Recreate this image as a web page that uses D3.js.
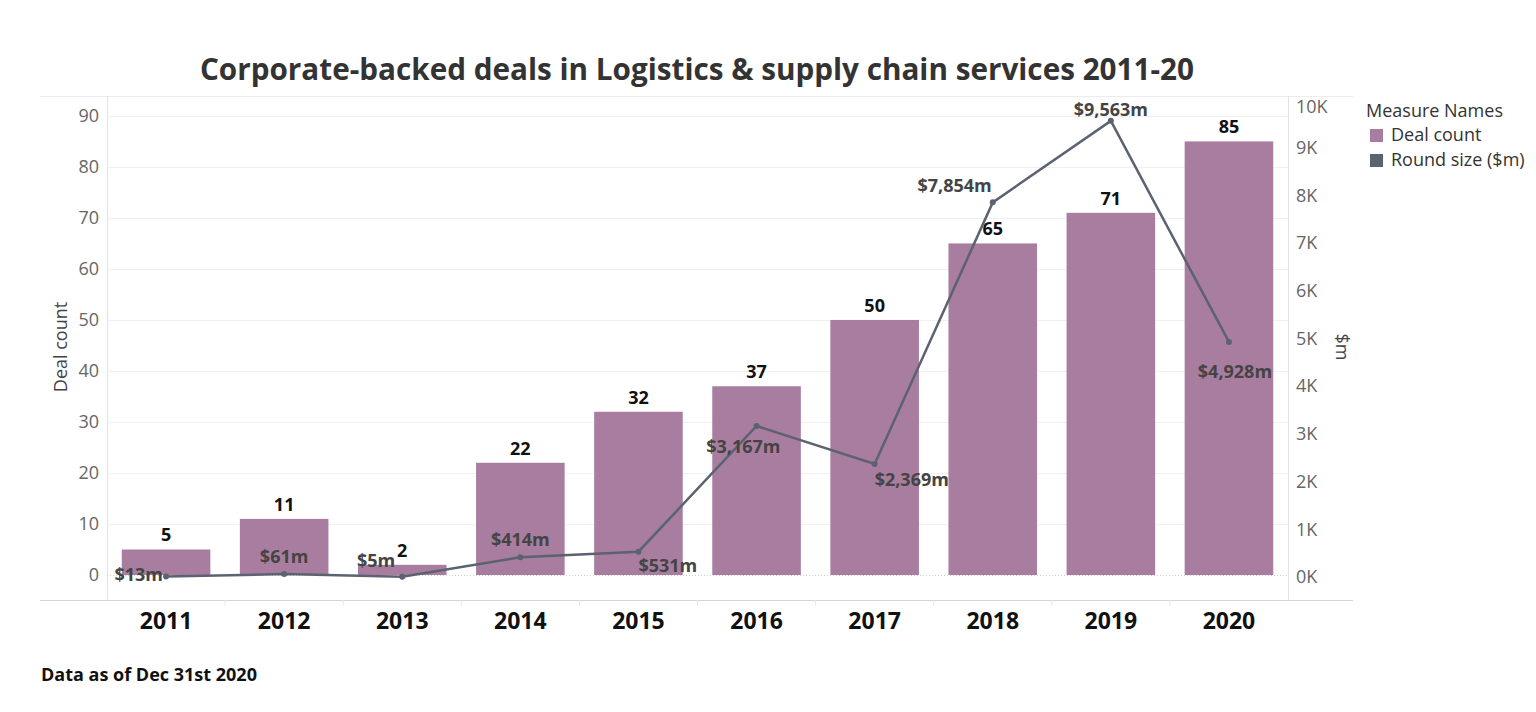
<!DOCTYPE html>
<html><head><meta charset="utf-8">
<script src="https://cdn.jsdelivr.net/npm/d3@7"></script>
<style>
html,body{margin:0;padding:0;background:#fff;}
svg{display:block;font-family:"Open Sans",sans-serif;}
</style></head>
<body>
<svg id="c" width="1536" height="712"></svg>
<script>
const years = ["2011","2012","2013","2014","2015","2016","2017","2018","2019","2020"];
const dealCount = [5, 11, 2, 22, 32, 37, 50, 65, 71, 85];
const roundSize = [13, 61, 5, 414, 531, 3167, 2369, 7854, 9563, 4928];
const leftTicks = [0,10,20,30,40,50,60,70,80,90];
const rightTicks = [0,1000,2000,3000,4000,5000,6000,7000,8000,9000,10000];
// label placement for line labels: [anchor, dx, dy]
const lineLabelPos = [["end",-3,0],["middle",0,-16],["end",-7,-15],["middle",0,-16],["start",0,16],["end",24,22],["start",0,17],["end",-1,-15],["middle",0,-10],["middle",6,31]];

const svg = d3.select("#c");
const L = 107, R = 1288, T = 96, B = 600;
const barColor = "#a87d9f", lineColor = "#5b6270";

const x = d3.scaleBand().domain(years).range([L, R]).paddingInner(0.25).paddingOuter(0.125);
const yL = d3.scaleLinear().domain([-4.9, 93.9]).range([B, T]);
const yR = d3.scaleLinear().domain([-482, 10084]).range([B, T]);

// title
svg.append("text").attr("x", 697).attr("y", 80).attr("text-anchor","middle")
  .attr("font-size", 29.7).attr("font-weight", 700).attr("fill","#333")
  .text("Corporate-backed deals in Logistics & supply chain services 2011-20");

// frame lines
svg.append("line").attr("x1",40).attr("x2",1353).attr("y1",T+0.5).attr("y2",T+0.5).attr("stroke","#ececec");
svg.append("line").attr("x1",40).attr("x2",1353).attr("y1",B+0.5).attr("y2",B+0.5).attr("stroke","#d4d4d4");
svg.append("line").attr("x1",L+0.5).attr("x2",L+0.5).attr("y1",T).attr("y2",B).attr("stroke","#e2e2e2");
svg.append("line").attr("x1",R+0.5).attr("x2",R+0.5).attr("y1",T).attr("y2",B).attr("stroke","#e2e2e2");

// gridlines
svg.append("g").selectAll("line").data(leftTicks.filter(d=>d>0)).join("line")
  .attr("x1",L).attr("x2",R).attr("y1",d=>Math.round(yL(d))+0.5).attr("y2",d=>Math.round(yL(d))+0.5)
  .attr("stroke","#f0f0f0");
svg.append("line").attr("x1",L).attr("x2",R).attr("y1",Math.round(yL(0))+0.5).attr("y2",Math.round(yL(0))+0.5)
  .attr("stroke","#cfcfcf").attr("stroke-dasharray","1,2");

// column separators at bottom
svg.append("g").selectAll("line").data(years.slice(1)).join("line")
  .attr("x1",d=>x(d)-x.step()*x.paddingInner()/2).attr("x2",d=>x(d)-x.step()*x.paddingInner()/2)
  .attr("y1",B).attr("y2",B+6).attr("stroke","#e8e8e8");

// left axis
const gL = svg.append("g").attr("transform",`translate(${L},0)`)
  .call(d3.axisLeft(yL).tickValues(leftTicks).tickSize(0).tickPadding(8));
gL.select(".domain").remove();
gL.selectAll("text").attr("font-size",18).attr("fill","#666").attr("font-family","Open Sans");

// right axis
const gR = svg.append("g").attr("transform",`translate(${R},0)`)
  .call(d3.axisRight(yR).tickValues(rightTicks).tickSize(0).tickPadding(8).tickFormat(d=>(d/1000)+"K"));
gR.select(".domain").remove();
gR.selectAll("text").attr("font-size",18).attr("fill","#666").attr("font-family","Open Sans")
  .attr("dy", d => d===10000 ? "0.7em" : "0.32em");

// axis titles
svg.append("text").attr("transform","translate(67,347) rotate(-90)").attr("text-anchor","middle")
  .attr("font-size",18).attr("fill","#444").text("Deal count");
svg.append("text").attr("transform","translate(1336,347) rotate(90)").attr("text-anchor","middle")
  .attr("font-size",18).attr("fill","#444").text("$m");

// bars
svg.append("g").selectAll("rect").data(years).join("rect")
  .attr("x",d=>x(d)).attr("width",x.bandwidth())
  .attr("y",(d,i)=>yL(dealCount[i])).attr("height",(d,i)=>yL(0)-yL(dealCount[i]))
  .attr("fill",barColor);

// bar labels
svg.append("g").selectAll("text").data(years).join("text")
  .attr("x",d=>x(d)+x.bandwidth()/2).attr("y",(d,i)=>yL(dealCount[i])-8)
  .attr("text-anchor","middle").attr("font-size",18).attr("font-weight",700).attr("fill","#111")
  .text((d,i)=>dealCount[i]);

// line
const cx = d=>x(d)+x.bandwidth()/2;
svg.append("path").datum(years)
  .attr("d", d3.line().x(cx).y((d,i)=>yR(roundSize[i])))
  .attr("fill","none").attr("stroke",lineColor).attr("stroke-width",2.5);
svg.append("g").selectAll("circle").data(years).join("circle")
  .attr("cx",cx).attr("cy",(d,i)=>yR(roundSize[i])).attr("r",3).attr("fill",lineColor);

// line labels
svg.append("g").selectAll("text").data(years).join("text")
  .attr("x",(d,i)=>cx(d)+lineLabelPos[i][1]).attr("y",(d,i)=>yR(roundSize[i])+lineLabelPos[i][2])
  .attr("text-anchor",(d,i)=>lineLabelPos[i][0]).attr("dominant-baseline","middle")
  .attr("font-size",18).attr("font-weight",700).attr("fill","#444")
  .text((d,i)=>"$"+d3.format(",")(roundSize[i])+"m");

// category labels
svg.append("g").selectAll("text").data(years).join("text")
  .attr("x",cx).attr("y",629).attr("text-anchor","middle")
  .attr("font-size",23).attr("font-weight",700).attr("fill","#111").text(d=>d);

// legend
const lg = svg.append("g");
lg.append("text").attr("x",1366).attr("y",117).attr("font-size",18).attr("fill","#333").text("Measure Names");
const legendItems = ["Deal count","Round size ($m)"];
const legendColors = [barColor, lineColor];
legendItems.forEach((t,i)=>{
  lg.append("rect").attr("x",1370).attr("y",129+i*25).attr("width",13).attr("height",13).attr("fill",legendColors[i]);
  lg.append("text").attr("x",1391).attr("y",141+i*25).attr("font-size",18).attr("fill","#333").text(t);
});

// footnote
svg.append("text").attr("x",41).attr("y",681).attr("font-size",18).attr("font-weight",700).attr("fill","#111")
  .text("Data as of Dec 31st 2020");
</script>
</body></html>
